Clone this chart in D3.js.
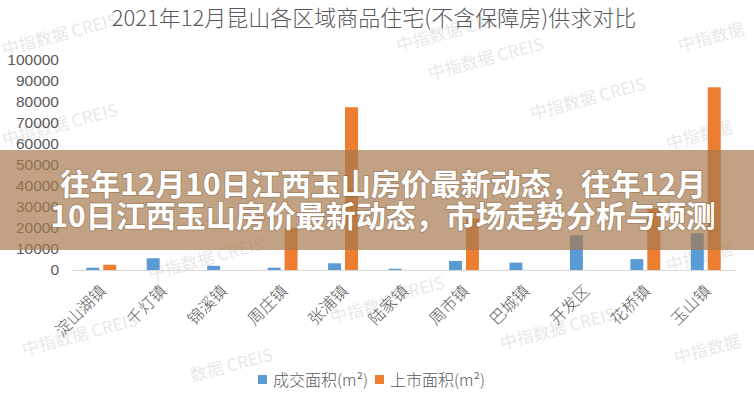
<!DOCTYPE html>
<html>
<head>
<meta charset="utf-8">
<script src="https://cdn.jsdelivr.net/npm/d3@7/dist/d3.min.js"></script>
<style>
  html, body { margin: 0; padding: 0; background: #fff; }
  svg { display: block; }
</style>
</head>
<body>
<svg id="chart" width="754" height="400"></svg>
<script>
// ---- data ----
const categories = ["淀山湖镇", "千灯镇", "锦溪镇", "周庄镇", "张浦镇", "陆家镇", "周市镇", "巴城镇", "开发区", "花桥镇", "玉山镇"];
const dealArea   = [1100, 5600, 2000, 1100, 3200, 600, 4300, 3500, 16500, 5200, 17500];
const listArea   = [2500, 0, 0, 20000, 77500, 0, 24500, 0, 0, 29500, 87000];
const seriesNames = ["成交面积(m²)", "上市面积(m²)"];
const yTicks = [0, 10000, 20000, 30000, 40000, 50000, 60000, 70000, 80000, 90000, 100000];
const titleText = "2021年12月昆山各区域商品住宅(不含保障房)供求对比";
const bannerLines = ["往年12月10日江西玉山房价最新动态，往年12月", "10日江西玉山房价最新动态，市场走势分析与预测"];

// ---- layout ----
const W = 754, H = 400;
const plotL = 71, plotR = 736, plotT = 60, plotB = 270;
const colors = ["#5B9BD5", "#ED7D31"];
const svg = d3.select("#chart");

// watermarks (decoration)
const wm = [
  [4, 56, "中指数据 CREIS"], [398, 52, "中指数据 CREIS"], [680, 52, "中指数据"],
  [430, 80, "中指数据 CREIS"], [4, 146, "中指数据 CREIS"], [532, 120, "中指数据 CREIS"],
  [668, 150, "中指数据"], [150, 280, "中指数据 CREIS"], [24, 356, "中指数据 CREIS"],
  [332, 324, "中指数据"], [400, 300, "CREIS"], [502, 350, "中指数据 CREIS"],
  [668, 272, "中指数据"], [192, 382, "数据 CREIS"], [676, 364, "中指数据"]
];
svg.append("g").selectAll("text").data(wm).join("text")
  .attr("transform", d => `translate(${d[0]},${d[1]}) rotate(-15)`)
  .attr("font-family", "Noto Sans CJK SC, sans-serif")
  .attr("font-size", 17)
  .attr("fill", "#dadada")
  .attr("opacity", 0.6)
  .text(d => d[2]);

// title
svg.append("text")
  .attr("x", 374).attr("y", 26)
  .attr("text-anchor", "middle")
  .attr("font-family", "Noto Sans CJK SC, sans-serif")
  .attr("font-weight", 300)
  .attr("font-size", 22)
  .attr("fill", "#595959")
  .text(titleText);

// scales
const x0 = d3.scaleBand().domain(categories).range([plotL, plotR]).paddingInner(0).paddingOuter(0);
const x1 = d3.scaleBand().domain([0, 1]).range([0, x0.bandwidth()]).paddingInner(0.235).paddingOuter(0.9);
const y = d3.scaleLinear().domain([0, 100000]).range([plotB, plotT]);

// y axis
const yAxis = svg.append("g")
  .attr("transform", `translate(${plotL},0)`)
  .call(d3.axisLeft(y).tickValues(yTicks).tickSize(0).tickPadding(12).tickFormat(d3.format("d")));
yAxis.select(".domain").remove();
yAxis.selectAll("text")
  .attr("font-family", "Liberation Sans, Arial, sans-serif")
  .attr("font-size", 15.5)
  .attr("fill", "#595959");

// bars
const rows = categories.map((c, i) => ({ c, v: [dealArea[i], listArea[i]] }));
const g = svg.append("g");
rows.forEach(r => {
  r.v.forEach((v, k) => {
    if (v <= 0) return;
    g.append("rect")
      .attr("x", x0(r.c) + x1(k))
      .attr("width", x1.bandwidth())
      .attr("y", y(v))
      .attr("height", y(0) - y(v))
      .attr("fill", colors[k]);
  });
});

// x axis
const xAxis = svg.append("g")
  .attr("transform", `translate(0,${plotB})`)
  .call(d3.axisBottom(x0).tickSize(0));
xAxis.select(".domain").attr("stroke", "#D9D9D9").attr("stroke-width", 1.2);
xAxis.selectAll("text")
  .attr("x", 0).attr("y", 0).attr("dy", "0.35em")
  .attr("transform", "translate(2,18) rotate(-45)")
  .attr("text-anchor", "end")
  .attr("font-family", "Noto Sans CJK SC, sans-serif")
  .attr("font-weight", 300)
  .attr("font-size", 16)
  .attr("fill", "#595959");

// legend
const leg = svg.append("g");
const legX = [258, 375];
seriesNames.forEach((n, k) => {
  leg.append("rect").attr("x", legX[k]).attr("y", 375).attr("width", 9).attr("height", 9).attr("fill", colors[k]);
  leg.append("text").attr("x", legX[k] + 15).attr("y", 380).attr("dy", "0.35em")
    .attr("font-family", "Noto Sans CJK SC, sans-serif")
    .attr("font-weight", 300)
    .attr("font-size", 16)
    .attr("fill", "#595959")
    .text(n);
});

// banner overlay
svg.append("rect")
  .attr("x", 0).attr("y", 150).attr("width", W).attr("height", 100)
  .attr("fill", "rgb(166,122,80)").attr("opacity", 0.7);
svg.append("g").selectAll("text").data(bannerLines).join("text")
  .attr("x", 383)
  .attr("y", (d, i) => 184 + i * 32)
  .attr("dy", "0.35em")
  .attr("text-anchor", "middle")
  .attr("font-family", "Noto Sans CJK SC, sans-serif")
  .attr("font-weight", 700)
  .attr("font-size", 30)
  .attr("fill", "#ffffff")
  .style("paint-order", "stroke")
  .attr("stroke", "rgba(90,60,30,0.25)")
  .attr("stroke-width", 2)
  .text(d => d);
</script>
</body>
</html>
